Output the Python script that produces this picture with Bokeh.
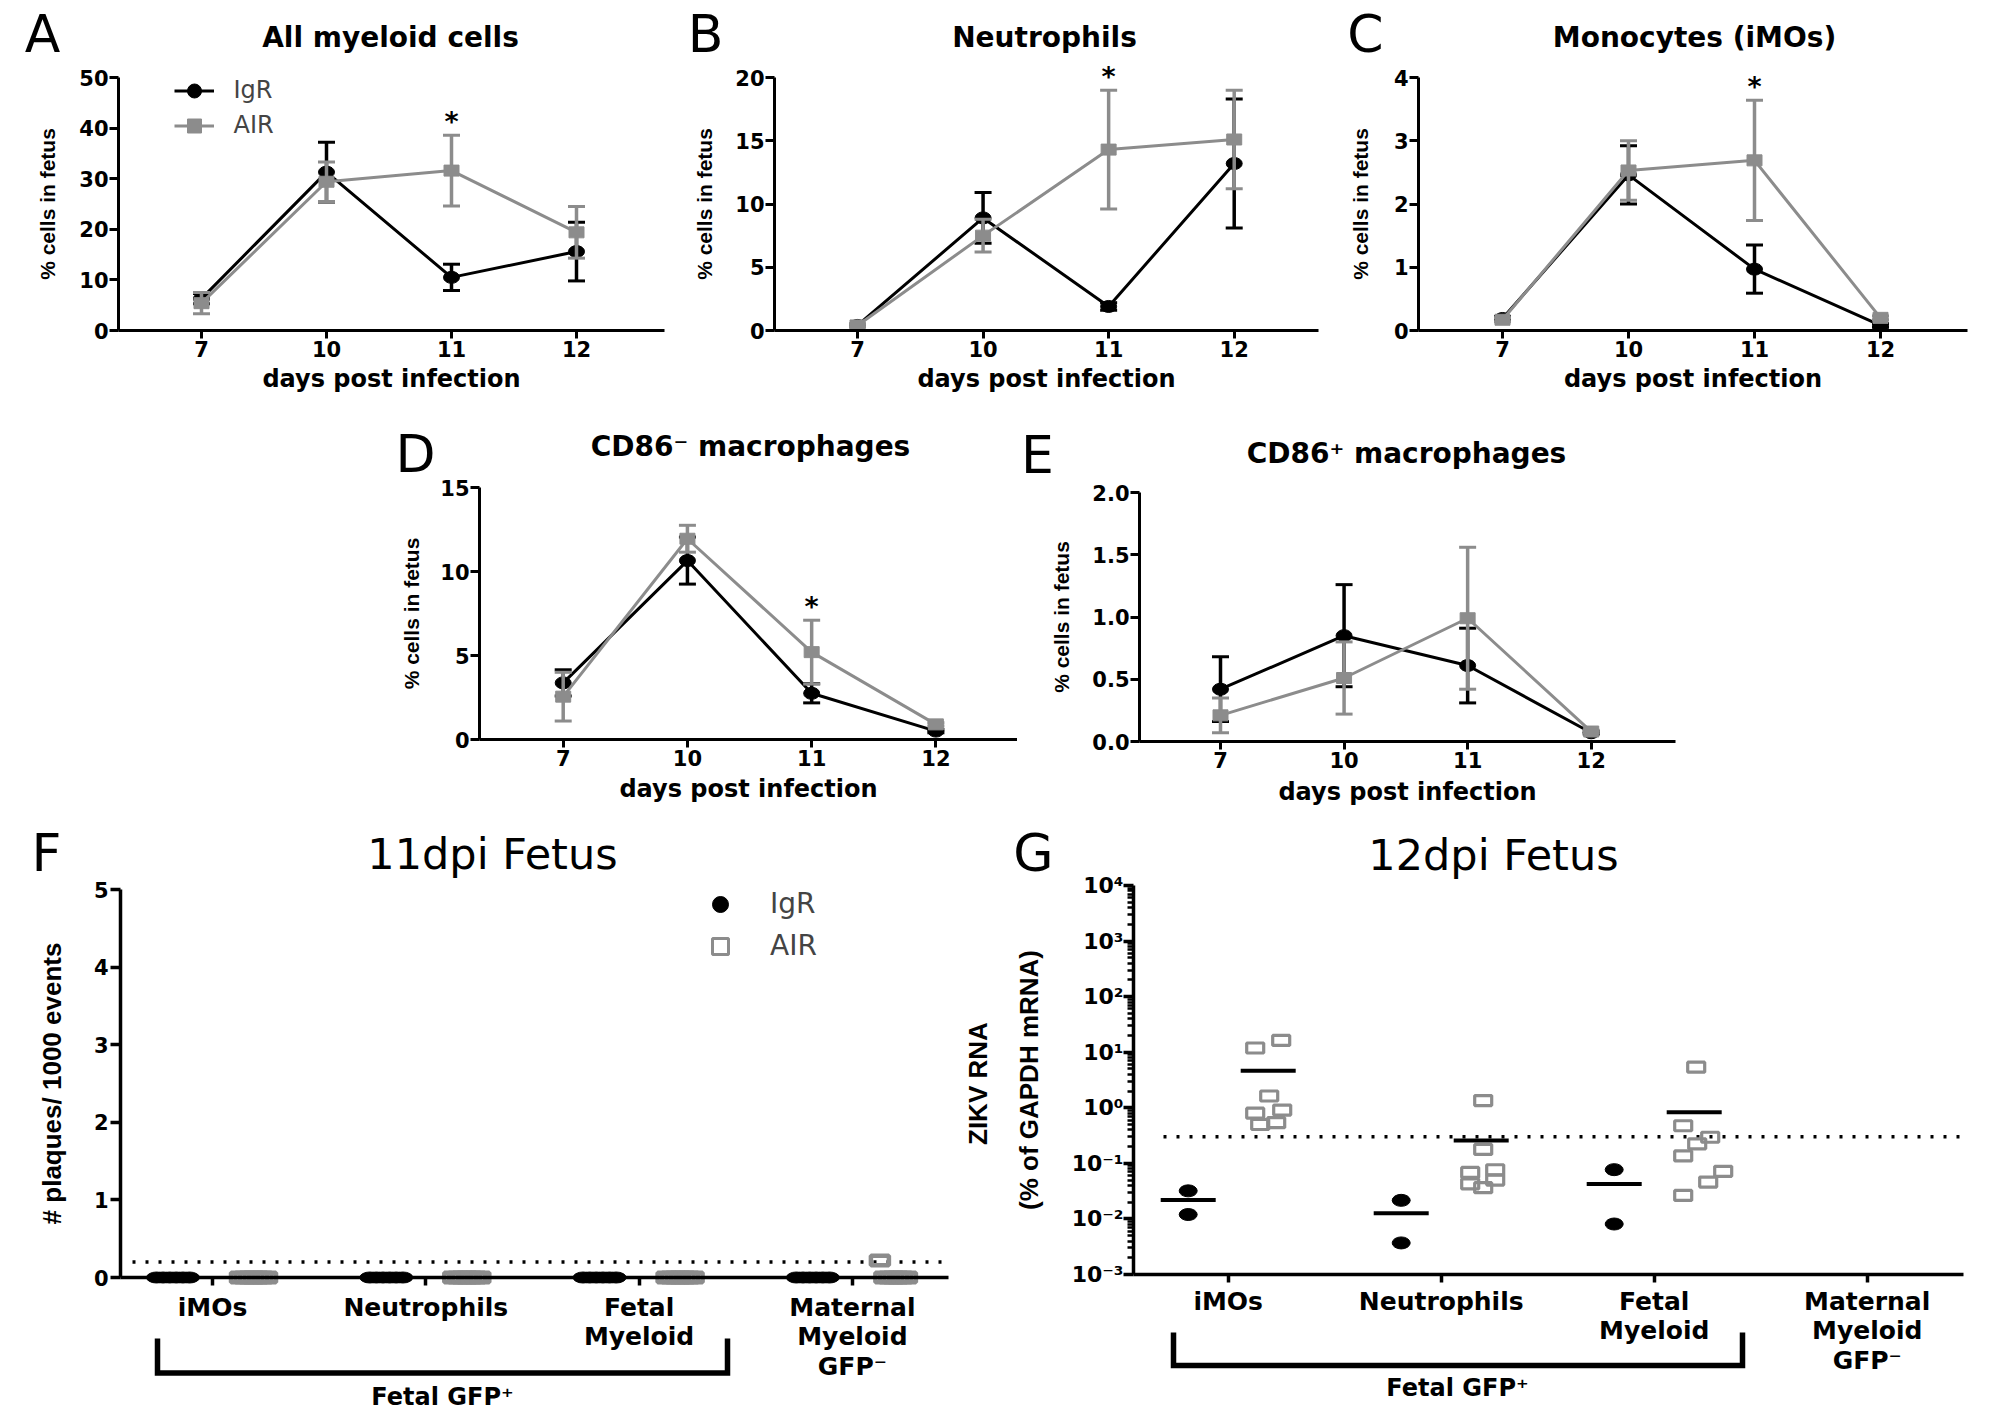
import math
import numpy as np
from bokeh.plotting import figure
from bokeh.models import (FixedTicker, Label, Legend, LegendItem, Range1d, Spacer,
                          CustomJSTickFormatter, NumeralTickFormatter)
from bokeh.layouts import column, row
from bokeh.embed import file_html
from bokeh.resources import INLINE

# ---------------------------------------------------------------- data
days = ["7", "10", "11", "12"]

allmy_igr_mean = [6.3, 31.3, 10.5, 15.6]
allmy_igr_sem = [1.0, 5.9, 2.6, 5.8]
allmy_air_mean = [5.4, 29.4, 31.6, 19.4]
allmy_air_sem = [2.1, 3.9, 7.0, 5.1]

neut_igr_mean = [0.4, 8.9, 1.9, 13.2]
neut_igr_sem = [0.1, 2.0, 0.3, 5.1]
neut_air_mean = [0.4, 7.5, 14.3, 15.1]
neut_air_sem = [0.1, 1.3, 4.7, 3.9]

mono_igr_mean = [0.19, 2.46, 0.97, 0.08]
mono_igr_sem = [0.03, 0.46, 0.38, 0.03]
mono_air_mean = [0.17, 2.53, 2.69, 0.20]
mono_air_sem = [0.03, 0.47, 0.95, 0.03]

cd86neg_igr_mean = [3.37, 10.65, 2.75, 0.50]
cd86neg_igr_sem = [0.78, 1.40, 0.57, 0.10]
cd86neg_air_mean = [2.55, 11.95, 5.20, 0.90]
cd86neg_air_sem = [1.45, 0.80, 1.90, 0.10]

cd86pos_igr_mean = [0.42, 0.85, 0.61, 0.07]
cd86pos_igr_sem = [0.26, 0.41, 0.30, 0.01]
cd86pos_air_mean = [0.21, 0.51, 0.99, 0.08]
cd86pos_air_sem = [0.14, 0.29, 0.57, 0.01]

sig_allmy = ["11"]
sig_neut = ["11"]
sig_mono = ["11"]
sig_cd86neg = ["11"]
sig_cd86pos = []

cell_cats = ["iMOs", "Neutrophils", "Fetal\nMyeloid", "Maternal\nMyeloid\nGFP\u207b"]

# F: plaques / 1000 events, 11 dpi
f_igr = [[0, 0, 0, 0, 0, 0], [0, 0, 0, 0, 0, 0], [0, 0, 0, 0, 0, 0], [0, 0, 0, 0, 0, 0]]
f_air = [[0, 0, 0, 0, 0, 0, 0], [0, 0, 0, 0, 0, 0, 0], [0, 0, 0, 0, 0, 0, 0],
         [0.22, 0, 0, 0, 0, 0, 0]]
f_lod = 0.2

# G: ZIKV RNA, 12 dpi
g_igr = [[0.032, 0.012], [0.0216, 0.0037], [0.077, 0.0081], []]
g_air = [[11.9, 16.3, 1.63, 0.80, 0.91, 0.54, 0.50],
         [1.35, 0.178, 0.0687, 0.0767, 0.050, 0.0427, 0.0365],
         [5.37, 0.475, 0.295, 0.225, 0.136, 0.072, 0.046, 0.0265],
         []]
g_lod = 0.3

# horizontal scatter of the AIR points in G (pixels, layout only)
g_air_jitter_px = [[-13, 13, 1, -13, 14, 8, -8],
                   [2, 2, -11, 14, 14, -11, 2],
                   [2, -11, 16, 3, -11, 29, 14, -11],
                   []]

# ---------------------------------------------------------------- style
BLACK = "#000000"
GRAY = "#8c8c8c"
HFONT = "DejaVu Sans"
VFONT = "Liberation Sans"
NAN = float("nan")


class Geo:
    """A figure whose frame fills it; axes are drawn at fixed data locations."""

    def __init__(self, fx, fy, w, h, ax_l, ax_r, tick0, sp, ytop, ytop_px, ybot, ybot_px, log=False):
        self.fx, self.fy, self.w, self.h = fx, fy, w, h
        self.tick0, self.sp, self.log = tick0, sp, log
        self.xr = ((fx - tick0) / sp, (fx + w - tick0) / sp)
        self.xb = ((ax_l - tick0) / sp, (ax_r - tick0) / sp)
        f = self._f
        self.ppu = (ybot_px - ytop_px) / (f(ytop) - f(ybot))
        self.top = f(ytop) + (ytop_px - fy) / self.ppu
        self.bot = f(ybot) - (fy + h - ybot_px) / self.ppu
        self.yr = (self._fi(self.bot), self._fi(self.top))
        self.yb = (ybot, ytop)

    def _f(self, v):
        return math.log10(v) if self.log else v

    def _fi(self, v):
        return 10 ** v if self.log else v

    def to_data(self, px, py):
        return (px - self.tick0) / self.sp, self._fi(self.top - (py - self.fy) / self.ppu)

    def y_px(self, y):
        return self.fy + (self.top - self._f(y)) * self.ppu

    def x_px(self, x):
        return self.tick0 + x * self.sp


def make_fig(g):
    p = figure(width=g.w, height=g.h, output_backend="svg", toolbar_location=None,
               x_range=Range1d(*g.xr), y_range=Range1d(*g.yr),
               y_axis_type="log" if g.log else "linear",
               min_border_left=0, min_border_right=0, min_border_top=0, min_border_bottom=0)
    p.outline_line_color = None
    p.xgrid.visible = False
    p.ygrid.visible = False
    p.background_fill_color = "white"
    p.border_fill_color = "white"
    xa, ya = p.xaxis[0], p.yaxis[0]
    xa.fixed_location = g.yb[0]
    xa.bounds = g.xb
    ya.fixed_location = g.xb[0]
    ya.bounds = g.yb
    return p


def add_text(p, g, px, py, text, size, font=HFONT, style="normal", align="center", angle=0.0):
    """Text centred (vertically) on the page point (px, py)."""
    x, y = g.to_data(px, py)
    p.add_layout(Label(x=x, y=y, text=text, text_font=font, text_font_size=f"{size}px",
                       text_font_style=style, text_align=align, text_baseline="middle",
                       angle=angle, text_color="black"))


def style_axis(ax, tick_out, label_size, standoff, lw=3.0):
    ax.axis_line_width = lw
    ax.axis_line_color = "black"
    ax.major_tick_line_width = lw
    ax.major_tick_line_color = "black"
    ax.major_tick_in = 0
    ax.major_tick_out = tick_out
    ax.minor_tick_line_color = None
    ax.major_label_text_font = HFONT
    ax.major_label_text_font_style = "bold"
    ax.major_label_text_font_size = f"{label_size}px"
    ax.major_label_text_color = "black"
    ax.major_label_standoff = standoff


# ---------------------------------------------------------------- line panels
def line_panel(g, letter, letter_xy, title, title_xy, xlabel_y, ylabel_x,
               igr, igr_sem, air, air_sem, sig, yticks, legend=False, yfmt=None):
    p = make_fig(g)
    x = list(range(len(days)))
    line_rs = []
    for mean, sem, col, shape in ((igr, igr_sem, BLACK, "o"), (air, air_sem, GRAY, "s")):
        lo = [m - s for m, s in zip(mean, sem)]
        hi = [m + s for m, s in zip(mean, sem)]
        lr = p.line(x, mean, line_color=col, line_width=3)
        p.segment(x0=x, y0=lo, x1=x, y1=hi, line_color=col, line_width=3.5)
        p.scatter(x + x, lo + hi, marker="dash", size=17, line_color=col, line_width=3)
        if shape == "o":
            p.ellipse(x=x, y=mean, width=16, height=12, width_units="screen",
                      height_units="screen", fill_color=col, line_color=col)
        else:
            p.rect(x=x, y=mean, width=15, height=11, width_units="screen",
                   height_units="screen", fill_color=col, line_color=col)
        line_rs.append(lr)

    xa = p.xaxis[0]
    style_axis(xa, 8, 21, 2)
    xa.ticker = FixedTicker(ticks=x)
    xa.major_label_overrides = {i: d for i, d in enumerate(days)}

    ya = p.yaxis[0]
    style_axis(ya, 9, 21, 1)
    ya.ticker = FixedTicker(ticks=yticks)
    if yfmt:
        ya.formatter = NumeralTickFormatter(format=yfmt)

    axis_mid_x = (g.x_px(g.xb[0]) + g.x_px(g.xb[1])) / 2
    axis_mid_y = (g.y_px(g.yb[0]) + g.y_px(g.yb[1])) / 2
    add_text(p, g, axis_mid_x, xlabel_y, "days post infection", 24, style="bold")
    add_text(p, g, ylabel_x, axis_mid_y, "% cells in fetus", 21, font=VFONT, style="bold",
             angle=math.pi / 2)
    add_text(p, g, letter_xy[0], letter_xy[1], letter, 52)
    add_text(p, g, title_xy[0], title_xy[1], title, 28, style="bold")

    for d in sig:
        i = days.index(d)
        top = max(igr[i] + igr_sem[i], air[i] + air_sem[i])
        star_centre = g.y_px(top) - 19
        add_text(p, g, g.x_px(i), star_centre + 5.5, "*", 27, style="bold")

    if legend:
        d1 = p.scatter(x=[NAN], y=[NAN], marker="circle", fill_color=BLACK, line_color=BLACK)
        d2 = p.scatter(x=[NAN], y=[NAN], marker="square", fill_color=GRAY, line_color=GRAY)
        gh = 35
        top = 90 - gh / 2
        leg = Legend(items=[LegendItem(label="IgR", renderers=[line_rs[0], d1]),
                            LegendItem(label="AIR", renderers=[line_rs[1], d2])],
                     location=(173.5 - g.fx, g.fy + g.h - (top + 2 * gh)),
                     glyph_width=40, glyph_height=gh, spacing=0, padding=0, margin=0,
                     label_standoff=20, label_text_font=HFONT, label_text_font_size="24px",
                     border_line_color=None, background_fill_alpha=0)
        p.add_layout(leg)
    return p


# geometry (page pixels): figure box, axis extent, tick start/spacing, y mapping
ROW1_Y, ROW1_H = 0, 405
ROW2_Y, ROW2_H = 405, 407
ROW3_Y, ROW3_H = 812, 604

gA = Geo(0, ROW1_Y, 680, ROW1_H, 118, 664, 201, 125.0, 50, 77, 0, 330)
gB = Geo(680, ROW1_Y, 650, ROW1_H, 774, 1318, 857, 125.57, 20, 77, 0, 330)
gC = Geo(1330, ROW1_Y, 664, ROW1_H, 1418, 1967, 1502, 126.0, 4, 77, 0, 330)
gD = Geo(380, ROW2_Y, 637, ROW2_H, 479, 1017, 562.7, 124.23, 15, 487, 0, 739)
gE = Geo(1017, ROW2_Y, 683, ROW2_H, 1139, 1675, 1220, 123.57, 2.0, 492, 0, 741)
gF = Geo(0, ROW3_Y, 958, ROW3_H, 120, 948, 212, 213.3, 5, 889, 0, 1277)
gG = Geo(958, ROW3_Y, 1036, ROW3_H, 1133, 1963, 1227.7, 213.0, 1e4, 885, 1e-3, 1274, log=True)

pA = line_panel(gA, "A", (42, 33), "All myeloid cells", (390, 36.5), 378, 47,
                allmy_igr_mean, allmy_igr_sem, allmy_air_mean, allmy_air_sem, sig_allmy,
                [0, 10, 20, 30, 40, 50], legend=True)
pB = line_panel(gB, "B", (705, 33), "Neutrophils", (1044, 36.5), 378, 704,
                neut_igr_mean, neut_igr_sem, neut_air_mean, neut_air_sem, sig_neut,
                [0, 5, 10, 15, 20])
pC = line_panel(gC, "C", (1365, 33), "Monocytes (iMOs)", (1694, 36.5), 378, 1360,
                mono_igr_mean, mono_igr_sem, mono_air_mean, mono_air_sem, sig_mono,
                [0, 1, 2, 3, 4])
pD = line_panel(gD, "D", (415, 453), "CD86\u207b macrophages", (750, 445.5), 788, 411,
                cd86neg_igr_mean, cd86neg_igr_sem, cd86neg_air_mean, cd86neg_air_sem,
                sig_cd86neg, [0, 5, 10, 15])
pE = line_panel(gE, "E", (1037, 454), "CD86\u207a macrophages", (1406, 452.5), 791, 1061,
                cd86pos_igr_mean, cd86pos_igr_sem, cd86pos_air_mean, cd86pos_air_sem,
                sig_cd86pos, [0, 0.5, 1.0, 1.5, 2.0], yfmt="0.0")


# ---------------------------------------------------------------- F / G helpers
def cat_axes(p, standoff):
    xa = p.xaxis[0]
    style_axis(xa, 8, 25, standoff, lw=3.5)
    xa.major_label_text_line_height = 1.02
    xa.ticker = FixedTicker(ticks=list(range(len(cell_cats))))
    xa.major_label_overrides = {i: c for i, c in enumerate(cell_cats)}


def bracket(p, g, px0, px1, py_top, py_bot, label, label_px, label_py):
    x0, yt = g.to_data(px0, py_top)
    x1, yb = g.to_data(px1, py_bot)
    p.line([x0, x0, x1, x1], [yt, yb, yb, yt], line_color="black", line_width=5.5,
           line_join="miter")
    add_text(p, g, label_px, label_py, label, 24, style="bold")


# ---------------------------------------------------------------- panel F
pF = make_fig(gF)
off_igr = -39.5 / gF.sp
off_air = 41.0 / gF.sp
lod_x0 = gF.to_data(132, 0)[0]
pF.segment(x0=[lod_x0], y0=[f_lod], x1=[gF.xb[1]], y1=[f_lod], line_color="black",
           line_width=3.5, line_dash="3 10")
for i in range(len(cell_cats)):
    n = len(f_igr[i])
    jx = np.linspace(-16.5, 16.5, n) / gF.sp
    pF.ellipse(x=list(i + off_igr + jx), y=f_igr[i], width=20, height=11, width_units="screen",
               height_units="screen", fill_color=BLACK, line_color=BLACK)
    n = len(f_air[i])
    jx = np.linspace(-13.5, 13.5, n) / gF.sp
    pF.rect(x=list(i + off_air + jx), y=f_air[i], width=18, height=9.5, width_units="screen",
            height_units="screen", fill_color=None, line_color=GRAY, line_width=4.5)

cat_axes(pF, 7)
yaF = pF.yaxis[0]
style_axis(yaF, 10, 21, 2, lw=3.5)
yaF.ticker = FixedTicker(ticks=[0, 1, 2, 3, 4, 5])
add_text(pF, gF, 51, 1083, "# plaques/ 1000 events", 26, font=VFONT, style="bold",
         angle=math.pi / 2)
add_text(pF, gF, 46, 852, "F", 52)
add_text(pF, gF, 492, 853.5, "11dpi Fetus", 43)
bracket(pF, gF, 157, 727, 1338, 1372.5, "Fetal GFP\u207a", 442, 1396.5)

fd1 = pF.scatter(x=[NAN], y=[NAN], marker="circle", fill_color=BLACK, line_color=BLACK)
fd2 = pF.scatter(x=[NAN], y=[NAN], marker="square", fill_color=None, line_color=GRAY,
                 line_width=3)
f_gh, f_spc = 40, 2
f_top = 903.6 - f_gh / 2
legF = Legend(items=[LegendItem(label="IgR", renderers=[fd1]),
                     LegendItem(label="AIR", renderers=[fd2])],
              location=(720 - 20 - gF.fx, gF.fy + gF.h - (f_top + 2 * f_gh + f_spc)),
              glyph_width=40, glyph_height=f_gh, spacing=f_spc, padding=0, margin=0,
              label_standoff=30, label_text_font=HFONT, label_text_font_size="28px",
              border_line_color=None, background_fill_alpha=0)
pF.add_layout(legF)

# ---------------------------------------------------------------- panel G
pG = make_fig(gG)
offG = 40.0 / gG.sp
lod_x0 = gG.to_data(1163, 0)[0]
pG.segment(x0=[lod_x0], y0=[g_lod], x1=[gG.xb[1]], y1=[g_lod], line_color="black",
           line_width=3.5, line_dash="3 10")
mean_x, mean_y = [], []
for i in range(len(cell_cats)):
    if g_igr[i]:
        pG.ellipse(x=[i - offG] * len(g_igr[i]), y=g_igr[i], width=18, height=12,
                   width_units="screen", height_units="screen", fill_color=BLACK, line_color=BLACK)
        mean_x.append(i - offG)
        mean_y.append(float(np.mean(g_igr[i])))
    if g_air[i]:
        xs = [i + offG + j / gG.sp for j in g_air_jitter_px[i]]
        pG.rect(x=xs, y=g_air[i], width=17, height=10, width_units="screen",
                height_units="screen", fill_color=None, line_color=GRAY, line_width=3.2)
        mean_x.append(i + offG)
        mean_y.append(float(np.mean(g_air[i])))
pG.scatter(x=mean_x, y=mean_y, marker="dash", size=55, line_color=BLACK, line_width=4)

cat_axes(pG, 4)
yaG = pG.yaxis[0]
style_axis(yaG, 10, 22, 0, lw=3.5)
yaG.ticker = FixedTicker(ticks=[10.0 ** k for k in range(-3, 5)],
                         minor_ticks=[m * 10.0 ** k for k in range(-3, 4) for m in range(2, 10)])
yaG.minor_tick_line_color = "black"
yaG.minor_tick_line_width = 2.5
yaG.minor_tick_in = 0
yaG.minor_tick_out = 6
yaG.formatter = CustomJSTickFormatter(code="""
const e = Math.round(Math.log10(tick));
const sup = {"-": "\u207b", "0": "\u2070", "1": "\u00b9", "2": "\u00b2", "3": "\u00b3", "4": "\u2074"};
return "10" + String(e).split("").map((c) => sup[c]).join("");
""")
add_text(pG, gG, 977, 1079.5, "ZIKV  RNA", 26, font=VFONT, style="bold", angle=math.pi / 2)
add_text(pG, gG, 1028, 1079.5, "(% of GAPDH mRNA)", 26, font=VFONT, style="bold",
         angle=math.pi / 2)
add_text(pG, gG, 1033, 852, "G", 52)
add_text(pG, gG, 1493, 854.5, "12dpi Fetus", 43)
bracket(pG, gG, 1173, 1742, 1332, 1365, "Fetal GFP\u207a", 1457, 1387.5)

# ---------------------------------------------------------------- layout
layout = column(
    row(pA, pB, pC),
    row(Spacer(width=380, height=ROW2_H), pD, pE, Spacer(width=294, height=ROW2_H)),
    row(pF, pG),
)

open("out.html", "w").write(file_html(layout, INLINE))
